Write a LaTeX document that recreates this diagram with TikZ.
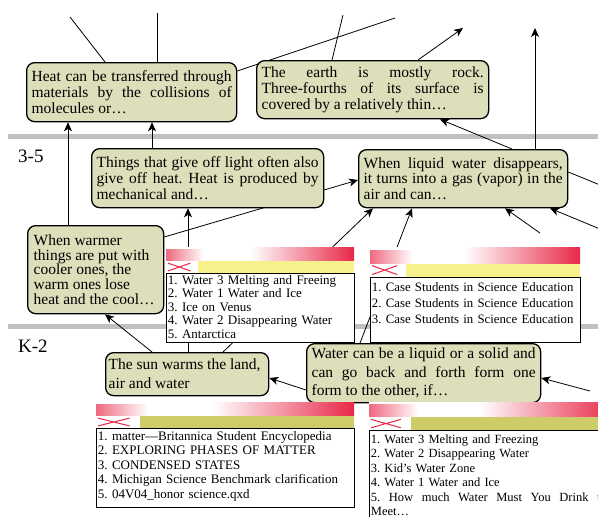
\documentclass[tikz,border=0pt]{standalone}
\usepackage{fontspec}
\setmainfont{Liberation Serif}
\usetikzlibrary{arrows.meta, positioning, backgrounds}
\definecolor{ideacolor}{RGB}{221,222,186}
\definecolor{bargray}{RGB}{192,192,192}
\definecolor{headred}{RGB}{232,40,72}
\definecolor{bandpale}{RGB}{246,241,140}
\definecolor{bandolive}{RGB}{205,204,105}
\tolerance=10000
\hbadness=10000
\frenchspacing

\begin{document}
\begin{tikzpicture}[
    x=1pt, y=-1pt,
    idea/.style={draw, line width=1.3pt, fill=ideacolor, rounded corners=8pt, anchor=north west, inner xsep=5pt, inner ysep=0pt, align=justify, font=\fontsize{15.5}{16}\selectfont},
    reflist/.style={draw, line width=0.9pt, fill=white, anchor=north west, inner xsep=1.5pt, inner ysep=1pt},
    link/.style={-{Stealth[length=9pt, width=8pt, inset=2.5pt]}, line width=0.8pt},
    stub/.style={line width=0.8pt},
    gradebar/.style={bargray, line width=5pt},
    grade/.style={anchor=west, inner sep=0pt, font=\fontsize{19}{22}\selectfont}
]
    \useasboundingbox (0,0) rectangle (598,517);

    % grade levels
    \node[grade] (gr35) at (18,156) {3-5};
    \node[grade] (grk2) at (18,346) {K-2};

    % concept boxes
    \node[idea, text width=200pt, minimum height=59pt] (heat) at (26,62) {Heat can be transferred through\linebreak materials by the collisions of\linebreak molecules or…};
    \node[idea, text width=222pt, minimum height=58pt] (earth) at (256,60) {The earth is mostly rock.\linebreak Three-fourths of its surface is\linebreak covered by a relatively thin…};
    \node[idea, text width=222pt, minimum height=59pt] (light) at (91,148) {Things that give off light often also\linebreak give off heat. Heat is produced by\linebreak mechanical and…};
    \node[idea, text width=199pt, minimum height=58pt, font=\fontsize{15.5}{15.5}\selectfont] (vapor) at (358,149) {When liquid water disappears,\linebreak it turns into a gas (vapor) in the\linebreak air and can…};
    \node[idea, inner xsep=6pt, text width=124pt, minimum height=88pt, font=\fontsize{15.5}{14.6}\selectfont] (warmer) at (27,225) {When warmer\\things are put with\\cooler ones, the\\warm ones lose\\heat and the cool…};
    \node[idea, inner xsep=3pt, text width=157pt, minimum height=43pt, font=\fontsize{15.5}{19}\selectfont] (sun) at (105,352) {The sun warms the land,\\air and water};
    \node[idea, text width=224pt, minimum height=59pt, font=\fontsize{15.5}{18.5}\selectfont] (phase) at (306,343) {Water can be a liquid or a solid and\linebreak can go back and forth form one\linebreak form to the other, if…};

    % resource lists
    \node[reflist, text width=185pt, text height=10pt, text depth=57pt, font=\fontsize{13}{13.5}\selectfont] (listA) at (166,273) {1. Water 3 Melting and Freeing\\2. Water 1 Water and Ice\\3. Ice on Venus\\4. Water 2 Disappearing Water\\5. Antarctica};
    \node[reflist, text width=207pt, text height=13pt, text depth=50pt, font=\fontsize{12.8}{16}\selectfont] (listB) at (370,277) {1. Case Students in Science Education\\2. Case Students in Science Education\\3. Case Students in Science Education};
    \node[reflist, text width=255pt, text height=11pt, text depth=66pt, font=\fontsize{13}{14.5}\selectfont] (listC) at (96,428) {1. matter—Britannica Student Encyclopedia\\2. EXPLORING PHASES OF MATTER\\3. CONDENSED STATES\\4. Michigan Science Benchmark clarification\\5. 04V04\_honor science.qxd};
    \node[reflist, text width=236pt, text height=12pt, text depth=100pt, font=\fontsize{12.5}{14.5}\selectfont] (listD) at (369,430) {1. Water 3 Melting and Freezing\\2. Water 2 Disappearing Water\\3. Kid’s Water Zone\\4. Water 1 Water and Ice\\\leavevmode\hbox to 236pt{5.\hfill How\hfill much\hfill Water\hfill Must\hfill You\hfill Drink\hfill to}\\Meet…};

    % list headers
    \foreach \hx/\hy/\hw/\hh/\band in {166/247/188/26/bandpale, 370/247/210/30/bandpale, 96/402/258/26/bandolive, 369/402/245/28/bandolive} {
        \fill[white] (\hx,\hy) rectangle ++(\hw,\hh);
        \shade[left color=white, right color=headred] (\hx+0.45*\hw,\hy) rectangle ++(0.55*\hw,0.55*\hh);
        \shade[left color=headred!70, right color=white] (\hx,\hy+0.1*\hh) rectangle ++(0.2*\hw,0.45*\hh);
        \fill[\band] (\hx,\hy+0.55*\hh) rectangle ++(\hw,0.45*\hh);
        \fill[white] (\hx,\hy+0.55*\hh) rectangle ++(0.17*\hw,0.45*\hh);
        \draw[headred, line width=1pt] (\hx+2,\hy+0.62*\hh) -- (\hx+0.13*\hw,\hy+0.92*\hh) (\hx+2,\hy+0.92*\hh) -- (\hx+0.13*\hw,\hy+0.62*\hh);
    }

    % free ends of links leaving the picture
    \coordinate (offA1) at (70,17);
    \coordinate (offA2) at (157,13);
    \coordinate (offA3) at (395,18);
    \coordinate (offB) at (343,15);
    \coordinate (offC) at (463,28);
    \coordinate (offD) at (535,28);
    \coordinate (offE) at (540,233);
    \coordinate (offF) at (600,229);
    \coordinate (offG) at (600,185);
    \coordinate (offH) at (590,391);

    \begin{scope}[on background layer]
        \draw[gradebar] (8,136) -- (600,136);
        \draw[gradebar] (8,326) -- (600,326);

        % links
        \draw[link] ([xshift=41pt]warmer.north west) -- ([xshift=42pt]heat.south west);
        \draw[link] ([xshift=61pt]light.north west) -- ([xshift=126pt]heat.south west);
        \draw[link] ([xshift=83pt]sun.north west) -- ([xshift=97pt]light.south west);
        \draw[link] ([yshift=-12pt]warmer.north east) -- ([yshift=-31pt]vapor.north west);
        \draw[link] ([xshift=118pt]sun.north west) -- ([xshift=15pt]vapor.south west);
        \draw[link] ([xshift=54pt]phase.north west) -- ([xshift=54pt]vapor.south west);
        \draw[link] (offE) -- ([xshift=147pt]vapor.south west);
        \draw[link] (offF) -- ([xshift=192pt]vapor.south west);
        \draw[stub] ([yshift=-23pt]vapor.north east) -- (offG);
        \draw[link] (offH) -- ([yshift=-35pt]phase.north east);
        \draw[link] ([yshift=-47pt]phase.north west) -- ([yshift=-26pt]sun.north east);
        \draw[link] ([xshift=47pt]sun.north west) -- ([xshift=78pt]warmer.south west);
        \draw[link] ([xshift=154pt]vapor.north west) -- ([xshift=184pt]earth.south west);
        \draw[link] ([xshift=177pt]vapor.north west) -- (offD);
        \draw[link] ([xshift=162pt]earth.north west) -- (offC);
        \draw[stub] ([xshift=76pt]earth.north west) -- (offB);
        \draw[stub] ([yshift=-9pt]heat.north east) -- (offA3);
        \draw[stub] ([xshift=79pt]heat.north west) -- (offA1);
        \draw[stub] ([xshift=131pt]heat.north west) -- (offA2);
    \end{scope}
\end{tikzpicture}
\end{document}
